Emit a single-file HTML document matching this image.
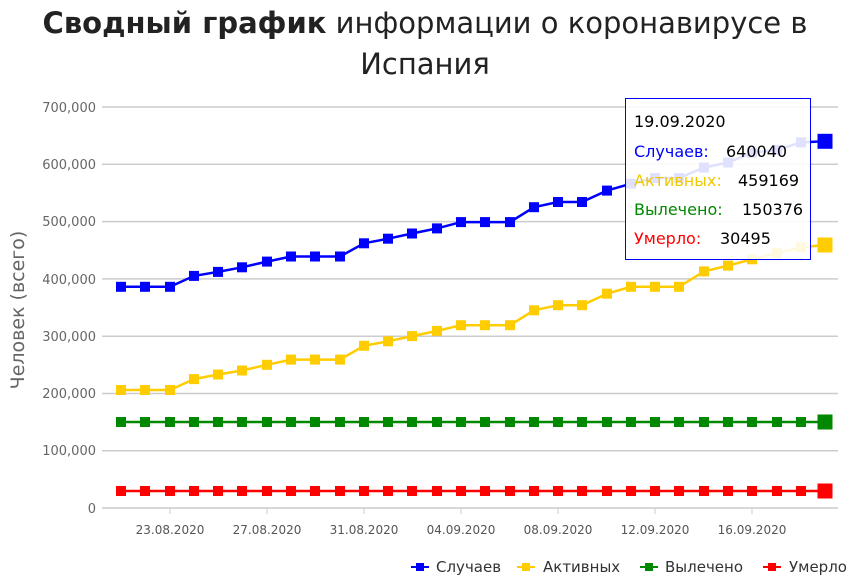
<!DOCTYPE html>
<html><head><meta charset="utf-8"><style>
body{margin:0;background:#fff;}
svg{display:block;font-family:"DejaVu Sans","Liberation Sans",sans-serif;}
</style></head><body>
<svg width="851" height="579" viewBox="0 0 851 579" xmlns="http://www.w3.org/2000/svg">
<text x="425" y="33" text-anchor="middle" font-size="29" fill="#222"><tspan font-weight="bold">Сводный график</tspan> информации о коронавирусе в</text>
<text x="425" y="74" text-anchor="middle" font-size="29" fill="#222">Испания</text>
<g stroke="#ccc" stroke-width="1.5">
<line x1="102" x2="838" y1="107" y2="107"/><line x1="102" x2="838" y1="164.3" y2="164.3"/>
<line x1="102" x2="838" y1="221.6" y2="221.6"/><line x1="102" x2="838" y1="278.9" y2="278.9"/>
<line x1="102" x2="838" y1="336.2" y2="336.2"/><line x1="102" x2="838" y1="393.5" y2="393.5"/>
<line x1="102" x2="838" y1="450.8" y2="450.8"/><line x1="102" x2="838" y1="508" y2="508"/>
</g>
<g font-size="13" fill="#666" text-anchor="end">
<text x="96" y="112">700,000</text><text x="96" y="169">600,000</text><text x="96" y="226">500,000</text>
<text x="96" y="284">400,000</text><text x="96" y="341">300,000</text><text x="96" y="398">200,000</text>
<text x="96" y="455">100,000</text><text x="96" y="513">0</text>
</g>
<text transform="translate(24,310) rotate(-90)" text-anchor="middle" font-size="19" fill="#666">Человек (всего)</text>
<g stroke="#ccc"><line x1="170" x2="170" y1="508" y2="514"/><line x1="267" x2="267" y1="508" y2="514"/><line x1="364" x2="364" y1="508" y2="514"/><line x1="461" x2="461" y1="508" y2="514"/><line x1="558" x2="558" y1="508" y2="514"/><line x1="655" x2="655" y1="508" y2="514"/><line x1="752" x2="752" y1="508" y2="514"/></g>
<g font-size="12" fill="#555" text-anchor="middle">
<text x="170" y="534">23.08.2020</text><text x="267" y="534">27.08.2020</text><text x="364" y="534">31.08.2020</text>
<text x="461" y="534">04.09.2020</text><text x="558" y="534">08.09.2020</text><text x="655" y="534">12.09.2020</text>
<text x="752" y="534">16.09.2020</text>
</g>

<defs>
<rect id="m" x="-5" y="-5" width="10" height="10"/>
</defs>

<!-- blue -->
<g fill="#00f">
<polyline fill="none" stroke="#00f" stroke-width="2.5" points="121,286.8 145,286.8 170,286.8 194,275.9 218,271.9 242,267.3 267,261.6 291,256.5 315,256.5 340,256.5 364,243.3 388,238.7 412,233.5 437,228.4 461,222.1 485,222.1 510,222.1 534,207.2 558,202 582,202 607,190.6 631,183.7 655,178 679,178 704,167.6 728,162.5 752,152.7 777,149.9 801,142.4 825,141.3"/>
<use href="#m" x="121" y="286.8"/><use href="#m" x="145" y="286.8"/><use href="#m" x="170" y="286.8"/><use href="#m" x="194" y="275.9"/><use href="#m" x="218" y="271.9"/><use href="#m" x="242" y="267.3"/><use href="#m" x="267" y="261.6"/><use href="#m" x="291" y="256.5"/><use href="#m" x="315" y="256.5"/><use href="#m" x="340" y="256.5"/><use href="#m" x="364" y="243.3"/><use href="#m" x="388" y="238.7"/><use href="#m" x="412" y="233.5"/><use href="#m" x="437" y="228.4"/><use href="#m" x="461" y="222.1"/><use href="#m" x="485" y="222.1"/><use href="#m" x="510" y="222.1"/><use href="#m" x="534" y="207.2"/><use href="#m" x="558" y="202"/><use href="#m" x="582" y="202"/><use href="#m" x="607" y="190.6"/><use href="#m" x="631" y="183.7"/><use href="#m" x="655" y="178"/><use href="#m" x="679" y="178"/><use href="#m" x="704" y="167.6"/><use href="#m" x="728" y="162.5"/><use href="#m" x="752" y="152.7"/><use href="#m" x="777" y="149.9"/><use href="#m" x="801" y="142.4"/>
<rect x="817.5" y="133.8" width="15" height="15"/>
</g>
<!-- yellow -->
<g fill="#fc0">
<polyline fill="none" stroke="#fc0" stroke-width="2.5" points="121,390 145,390 170,390 194,379.1 218,374.5 242,370.5 267,364.8 291,359.6 315,359.6 340,359.6 364,345.8 388,341.3 412,336.1 437,330.9 461,325.2 485,325.2 510,325.2 534,310.3 558,305.2 582,305.2 607,293.7 631,286.8 655,286.8 679,286.8 704,271.4 728,265.6 752,259.3 777,253 801,247.3 825,245"/>
<use href="#m" x="121" y="390"/><use href="#m" x="145" y="390"/><use href="#m" x="170" y="390"/><use href="#m" x="194" y="379.1"/><use href="#m" x="218" y="374.5"/><use href="#m" x="242" y="370.5"/><use href="#m" x="267" y="364.8"/><use href="#m" x="291" y="359.6"/><use href="#m" x="315" y="359.6"/><use href="#m" x="340" y="359.6"/><use href="#m" x="364" y="345.8"/><use href="#m" x="388" y="341.3"/><use href="#m" x="412" y="336.1"/><use href="#m" x="437" y="330.9"/><use href="#m" x="461" y="325.2"/><use href="#m" x="485" y="325.2"/><use href="#m" x="510" y="325.2"/><use href="#m" x="534" y="310.3"/><use href="#m" x="558" y="305.2"/><use href="#m" x="582" y="305.2"/><use href="#m" x="607" y="293.7"/><use href="#m" x="631" y="286.8"/><use href="#m" x="655" y="286.8"/><use href="#m" x="679" y="286.8"/><use href="#m" x="704" y="271.4"/><use href="#m" x="728" y="265.6"/><use href="#m" x="752" y="259.3"/><use href="#m" x="777" y="253"/><use href="#m" x="801" y="247.3"/>
<rect x="817.5" y="237.5" width="15" height="15"/>
</g>
<!-- green -->
<g fill="#080">
<line x1="121" x2="825" y1="422" y2="422" stroke="#080" stroke-width="2.5"/>
<use href="#m" x="121" y="422"/><use href="#m" x="145" y="422"/><use href="#m" x="170" y="422"/><use href="#m" x="194" y="422"/><use href="#m" x="218" y="422"/><use href="#m" x="242" y="422"/><use href="#m" x="267" y="422"/><use href="#m" x="291" y="422"/><use href="#m" x="315" y="422"/><use href="#m" x="340" y="422"/><use href="#m" x="364" y="422"/><use href="#m" x="388" y="422"/><use href="#m" x="412" y="422"/><use href="#m" x="437" y="422"/><use href="#m" x="461" y="422"/><use href="#m" x="485" y="422"/><use href="#m" x="510" y="422"/><use href="#m" x="534" y="422"/><use href="#m" x="558" y="422"/><use href="#m" x="582" y="422"/><use href="#m" x="607" y="422"/><use href="#m" x="631" y="422"/><use href="#m" x="655" y="422"/><use href="#m" x="679" y="422"/><use href="#m" x="704" y="422"/><use href="#m" x="728" y="422"/><use href="#m" x="752" y="422"/><use href="#m" x="777" y="422"/><use href="#m" x="801" y="422"/>
<rect x="817.5" y="414.5" width="15" height="15"/>
</g>
<!-- red -->
<g fill="#f00">
<line x1="121" x2="825" y1="491" y2="491" stroke="#f00" stroke-width="2.5"/>
<use href="#m" x="121" y="491"/><use href="#m" x="145" y="491"/><use href="#m" x="170" y="491"/><use href="#m" x="194" y="491"/><use href="#m" x="218" y="491"/><use href="#m" x="242" y="491"/><use href="#m" x="267" y="491"/><use href="#m" x="291" y="491"/><use href="#m" x="315" y="491"/><use href="#m" x="340" y="491"/><use href="#m" x="364" y="491"/><use href="#m" x="388" y="491"/><use href="#m" x="412" y="491"/><use href="#m" x="437" y="491"/><use href="#m" x="461" y="491"/><use href="#m" x="485" y="491"/><use href="#m" x="510" y="491"/><use href="#m" x="534" y="491"/><use href="#m" x="558" y="491"/><use href="#m" x="582" y="491"/><use href="#m" x="607" y="491"/><use href="#m" x="631" y="491"/><use href="#m" x="655" y="491"/><use href="#m" x="679" y="491"/><use href="#m" x="704" y="491"/><use href="#m" x="728" y="491"/><use href="#m" x="752" y="491"/><use href="#m" x="777" y="491"/><use href="#m" x="801" y="491"/>
<rect x="817.5" y="483.5" width="15" height="15"/>
</g>

<g font-size="15" fill="#333">
<line x1="411" x2="429" y1="567" y2="567" stroke="#00f" stroke-width="2"/><rect x="416" y="563" width="8" height="8" fill="#00f"/><text x="436" y="572">Случаев</text>
<line x1="517" x2="535" y1="567" y2="567" stroke="#fc0" stroke-width="2"/><rect x="522" y="563" width="8" height="8" fill="#fc0"/><text x="543" y="572">Активных</text>
<line x1="640" x2="658" y1="567" y2="567" stroke="#080" stroke-width="2"/><rect x="645" y="563" width="8" height="8" fill="#080"/><text x="665" y="572">Вылечено</text>
<line x1="763" x2="781" y1="567" y2="567" stroke="#f00" stroke-width="2"/><rect x="768" y="563" width="8" height="8" fill="#f00"/><text x="789" y="572">Умерло</text>
</g>
<g>
<rect x="625.5" y="98.5" width="185" height="161" fill="#fff" fill-opacity="0.88" stroke="#00f"/>
<g font-size="16">
<text x="634" y="127" fill="#000">19.09.2020</text>
<text x="634" y="157" fill="#00f">Случаев:</text><text x="726" y="157" fill="#000">640040</text>
<text x="634" y="186" fill="#f0c800">Активных:</text><text x="738" y="186" fill="#000">459169</text>
<text x="634" y="215" fill="#080">Вылечено:</text><text x="742" y="215" fill="#000">150376</text>
<text x="634" y="244" fill="#f00">Умерло:</text><text x="720" y="244" fill="#000">30495</text>
</g>
</g>
</svg>
</body></html>
